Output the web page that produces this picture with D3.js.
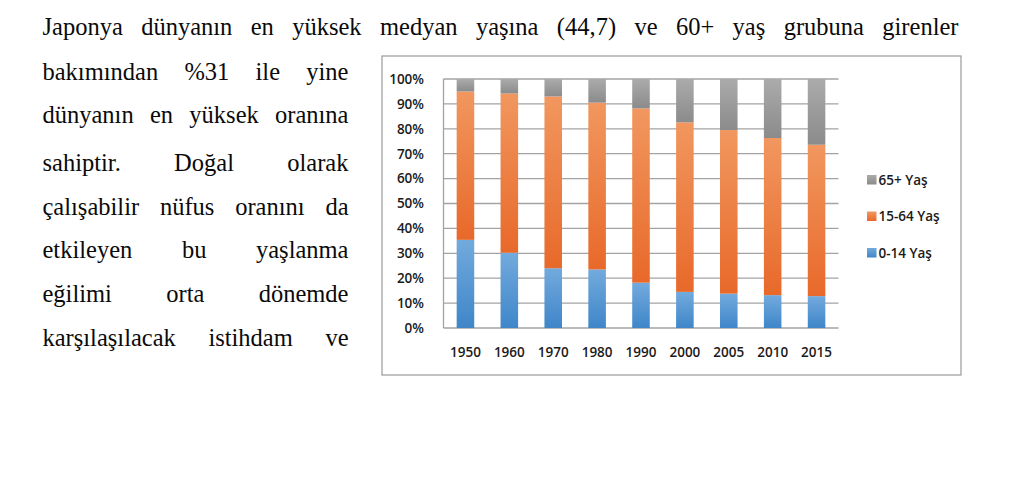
<!DOCTYPE html>
<html>
<head>
<meta charset="utf-8">
<script src="https://cdn.jsdelivr.net/npm/d3@7"></script>
<style>
  body { margin: 0; background: #fff; }
  svg { display: block; }
</style>
</head>
<body>
<div id="chart"></div>
<script>
// Japan population age structure, share of total (%)
var years = ["1950", "1960", "1970", "1980", "1990", "2000", "2005", "2010", "2015"];
var age0_14 = [35.4, 30.2, 24.0, 23.5, 18.2, 14.5, 13.8, 13.2, 12.8];
var age15_64 = [59.6, 64.0, 69.0, 67.0, 70.0, 68.1, 65.7, 63.1, 60.8];
var age65 = [5.0, 5.8, 7.0, 9.5, 11.8, 17.4, 20.5, 23.7, 26.4];
var seriesNames = ["0-14 Yaş", "15-64 Yaş", "65+ Yaş"];
var yTicks = [0, 10, 20, 30, 40, 50, 60, 70, 80, 90, 100];

// surrounding paragraph text, one entry per printed line
var headLine = "Japonya dünyanın en yüksek medyan yaşına (44,7) ve 60+ yaş grubuna girenler";
var sideLines = ["bakımından %31 ile yine", "dünyanın en yüksek oranına", "sahiptir. Doğal olarak",
                 "çalışabilir nüfus oranını da", "etkileyen bu yaşlanma", "eğilimi orta dönemde",
                 "karşılaşılacak istihdam ve"];

var colors = {
  "0-14 Yaş": ["#72aadd", "#3f86c9"],
  "15-64 Yaş": ["#f1975f", "#e8692a"],
  "65+ Yaş": ["#ababab", "#8b8b8b"]
};

var width = 1024, height = 491;
var svg = d3.select("#chart").append("svg")
  .attr("width", width)
  .attr("height", height);

var defs = svg.append("defs");
seriesNames.forEach(function(name, i) {
  var g = defs.append("linearGradient")
    .attr("id", "grad" + i)
    .attr("x1", 0).attr("y1", 0).attr("x2", 0).attr("y2", 1);
  g.append("stop").attr("offset", "0%").attr("stop-color", colors[name][0]);
  g.append("stop").attr("offset", "100%").attr("stop-color", colors[name][1]);
});

// justified text lines, like the printed page
var serif = "'Liberation Serif', 'Times New Roman', serif";
function justify(line, x0, x1, baseline) {
  var words = line.split(" ");
  var g = svg.append("g");
  var nodes = words.map(function(w) {
    return g.append("text")
      .attr("y", baseline)
      .style("font-family", serif)
      .style("font-size", "24.5px")
      .style("fill", "#0a0a0a")
      .text(w);
  });
  var widths = nodes.map(function(n) { return n.node().getComputedTextLength(); });
  var gap = (x1 - x0 - d3.sum(widths)) / (words.length - 1);
  var x = x0;
  nodes.forEach(function(n, i) {
    n.attr("x", x);
    x += widths[i] + gap;
  });
}
justify(headLine, 42.5, 958.5, 35);
var sideBase = [80, 123, 171, 215, 258, 302, 346];
sideLines.forEach(function(l, i) { justify(l, 42.5, 348.5, sideBase[i]); });

// chart frame
svg.append("rect")
  .attr("x", 382).attr("y", 56)
  .attr("width", 579).attr("height", 319)
  .attr("fill", "#fff")
  .attr("stroke", "#9a9a9a")
  .attr("stroke-width", 1.2);

var margin = {left: 443.5, right: 838.5, top: 79, bottom: 328};
var font = "'Open Sans', sans-serif";

var x = d3.scaleBand()
  .domain(years)
  .range([margin.left, margin.right])
  .paddingInner(0.6)
  .paddingOuter(0.3);

var y = d3.scaleLinear()
  .domain([0, 100])
  .range([margin.bottom, margin.top]);

// gridlines
svg.append("g")
  .selectAll("line")
  .data(yTicks)
  .enter()
  .append("line")
    .attr("x1", margin.left).attr("x2", margin.right)
    .attr("y1", function(d) { return y(d); })
    .attr("y2", function(d) { return y(d); })
    .attr("stroke", "#a3a3a3")
    .attr("stroke-width", 1.3);

// stacked bars
var table = years.map(function(yr, i) {
  return {year: yr, "0-14 Yaş": age0_14[i], "15-64 Yaş": age15_64[i], "65+ Yaş": age65[i]};
});
var stack = d3.stack().keys(seriesNames)(table);

stack.forEach(function(layer, i) {
  svg.append("g")
    .attr("fill", "url(#grad" + i + ")")
    .selectAll("rect")
    .data(layer)
    .enter()
    .append("rect")
      .attr("x", function(d) { return x(d.data.year); })
      .attr("width", x.bandwidth())
      .attr("y", function(d) { return y(d[1]); })
      .attr("height", function(d) { return y(d[0]) - y(d[1]); });
});

// left axis line
svg.append("line")
  .attr("x1", margin.left).attr("x2", margin.left)
  .attr("y1", margin.top).attr("y2", margin.bottom)
  .attr("stroke", "#a3a3a3")
  .attr("stroke-width", 1.3);

// Y axis
var yAxis = svg.append("g")
  .attr("transform", "translate(" + (margin.left - 16.5) + ",0)")
  .call(d3.axisLeft(y).tickValues(yTicks).tickSize(0).tickFormat(function(d) { return d + "%"; }));
yAxis.select(".domain").remove();
yAxis.selectAll("text")
  .style("font-family", font)
  .style("font-size", "13.5px")
  .style("font-weight", 600)
  .style("fill", "#1a1a1a");

// X axis
var xAxis = svg.append("g")
  .attr("transform", "translate(0," + (margin.bottom + 16) + ")")
  .call(d3.axisBottom(x).tickSize(0));
xAxis.select(".domain").remove();
xAxis.selectAll("text")
  .style("font-family", font)
  .style("font-size", "13.5px")
  .style("font-weight", 600)
  .style("fill", "#1a1a1a");

// legend, top to bottom 65+, 15-64, 0-14
var legendKeys = seriesNames.slice().reverse();
var legend = svg.append("g");
legend.selectAll("rect")
  .data(legendKeys)
  .enter()
  .append("rect")
    .attr("x", 867)
    .attr("y", function(d, i) { return 175 + i * 36.5; })
    .attr("width", 9.5)
    .attr("height", 9.5)
    .attr("fill", function(d) { return "url(#grad" + seriesNames.indexOf(d) + ")"; });
legend.selectAll("text")
  .data(legendKeys)
  .enter()
  .append("text")
    .attr("x", 878.5)
    .attr("y", function(d, i) { return 180 + i * 36.5; })
    .attr("dy", "0.35em")
    .style("font-family", font)
    .style("font-size", "13.5px")
    .style("font-weight", 600)
    .style("fill", "#1a1a1a")
    .text(function(d) { return d; });
</script>
</body>
</html>
